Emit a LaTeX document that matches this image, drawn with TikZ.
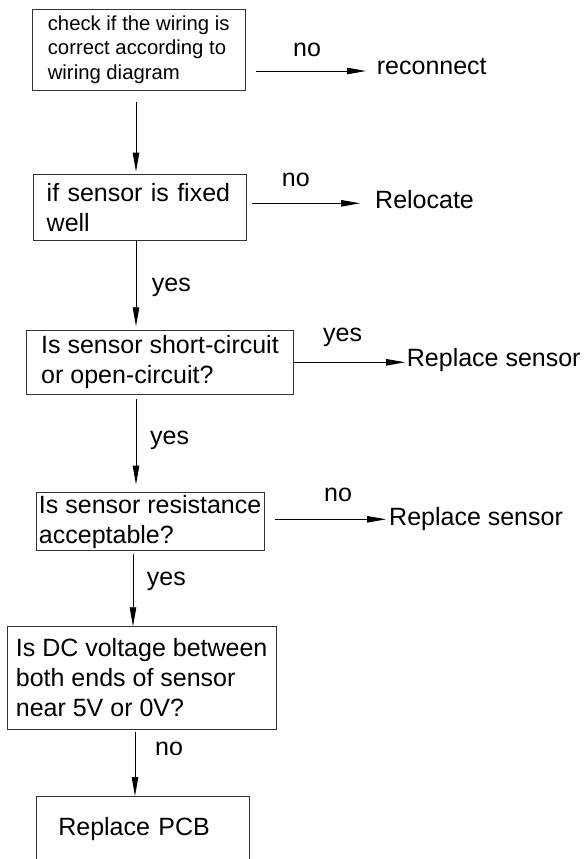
\documentclass[tikz,border=0pt]{standalone}
\usepackage{fontspec}
\setmainfont{Liberation Sans}
\usetikzlibrary{arrows.meta}
\begin{document}
\begin{tikzpicture}[x=1pt,y=1pt,
  box/.style={draw=black!80, line width=0.9pt, inner sep=0pt, align=left,
    font=\fontsize{25}{30}\selectfont},
  lbl/.style={inner sep=0pt, anchor=base west, font=\fontsize{25}{30}\selectfont},
  arr/.style={-{Triangle[length=19pt,width=6.5pt]}, line width=0.9pt}]
\useasboundingbox (0,0) rectangle (584,-859);
\clip (0,0) rectangle (584,-859);
% boxes
\node[box, minimum width=212.7, minimum height=81,
  font=\fontsize{20.3}{24.5}\selectfont] (b1) at (138.65,-49.5)
  {check if the wiring is\\correct according to\\wiring diagram};
\node[box, minimum width=213.4, minimum height=66.7, text width=186.6] (b2) at (140,-207.35)
  {if sensor is fixed\\well};
\node[box, minimum width=266.6, minimum height=63.3] (b3) at (160,-362.35)
  {Is sensor short-circuit\\or open-circuit?};
\node[box, minimum width=228.3, minimum height=58] (b4) at (150.15,-521.7)
  {Is sensor resistance\\acceptable?};
\node[box, minimum width=268.7, minimum height=102.6] (b5) at (141.65,-678)
  {Is DC voltage between\\both ends of sensor\\near 5V or 0V?};
\node[box, minimum width=213.3, minimum height=66, text width=168.7, anchor=north] (b6) at (142.65,-796)
  {Replace PCB};
% result texts
\node[lbl] (t1) at (376.7,-74.3) {reconnect};
\node[lbl] (t2) at (375,-208.3) {Relocate};
\node[lbl] (t3) at (406.7,-366.7) {Replace sensor};
\node[lbl] (t4) at (389,-525) {Replace sensor};
% right arrows
\coordinate (r1) at (256,-71);
\coordinate (r2) at (251.7,-203.3);
\coordinate (r3) at (294.3,-362.3);
\coordinate (r4) at (275,-519.3);
\draw[arr, shorten >=10.7pt] (r1) -- (r1 -| t1.west);
\draw[arr, shorten >=15pt] (r2) -- (r2 -| t2.west);
\draw[arr, shorten >=1.7pt] (r3) -- (r3 -| t3.west);
\draw[arr, shorten >=3pt] (r4) -- (r4 -| t4.west);
\node[lbl] (n1) at (293,-56.7) {no};
\node[lbl] (n2) at (281.7,-186.7) {no};
\node[lbl] (n3) at (323,-341.7) {yes};
\node[lbl] (n4) at (324,-501) {no};
% down arrows
\coordinate (d1) at (136,0);
\coordinate (d4) at (133,0);
\coordinate (d5) at (135,0);
\draw[arr, shorten <=11.7pt, shorten >=2pt] (d1 |- b1.south) -- (d1 |- b2.north);
\draw[arr, shorten >=4pt] (d1 |- b2.south) -- (d1 |- b3.north);
\draw[arr, shorten <=5pt, shorten >=7.7pt] (d1 |- b3.south) -- (d1 |- b4.north);
\draw[arr, shorten <=2.6pt] (d4 |- b4.south) -- (d4 |- b5.north);
\draw[arr, shorten <=2.4pt] (d5 |- b5.south) -- (d5 |- b6.north);
\node[lbl] (y1) at (151.7,-291.7) {yes};
\node[lbl] (y2) at (150,-444) {yes};
\node[lbl] (y3) at (146.7,-585) {yes};
\node[lbl] (y4) at (155,-755) {no};
\end{tikzpicture}
\end{document}
